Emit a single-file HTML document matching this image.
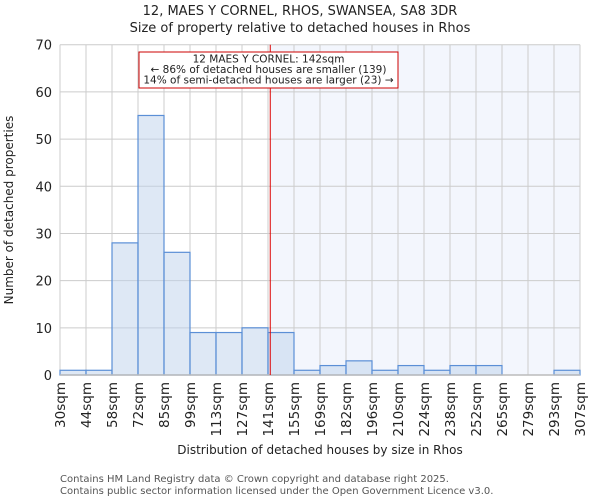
<!DOCTYPE html>
<html><head><meta charset="utf-8"><style>
body{margin:0;background:#fff;font-family:"DejaVu Sans","Liberation Sans",sans-serif}
svg text{font-family:"DejaVu Sans","Liberation Sans",sans-serif}
</style></head><body>
<svg id="c" width="600" height="500" viewBox="0 0 600 500">
<text x="300" y="15" text-anchor="middle" font-size="13" fill="#222">12, MAES Y CORNEL, RHOS, SWANSEA, SA8 3DR</text>
<text x="300" y="32" text-anchor="middle" font-size="13" fill="#222">Size of property relative to detached houses in Rhos</text>
<text transform="translate(13,210) rotate(-90)" text-anchor="middle" font-size="12" fill="#222">Number of detached properties</text>
<text x="320" y="454" text-anchor="middle" font-size="12" fill="#222">Distribution of detached houses by size in Rhos</text>
<text x="60" y="482" font-size="10" fill="#555">Contains HM Land Registry data © Crown copyright and database right 2025.</text>
<text x="60" y="494" font-size="10" fill="#555">Contains public sector information licensed under the Open Government Licence v3.0.</text>
<g id="plot"></g>
</svg>
<script>
const binEdges=[30,44,58,72,85,99,113,127,141,155,169,182,196,210,224,238,252,265,279,293,307];
const counts=[1,1,28,55,26,9,9,10,9,1,2,3,1,2,1,2,2,0,0,1];
const yTicks=[0,10,20,30,40,50,60,70];
const propertySize=142;
const annotationLines=["12 MAES Y CORNEL: 142sqm","← 86% of detached houses are smaller (139)","14% of semi-detached houses are larger (23) →"];
const NS="http://www.w3.org/2000/svg";
const L=60,R=580,T=44.7,B=375,yMax=70;
const xs=v=>L+(v-binEdges[0])/(binEdges[binEdges.length-1]-binEdges[0])*(R-L);
const xi=i=>L+i*(R-L)/(binEdges.length-1);
const ys=v=>B-v/yMax*(B-T);
const g=document.getElementById('plot');
function mk(t,a){const e=document.createElementNS(NS,t);for(const k in a)e.setAttribute(k,a[k]);g.appendChild(e);return e;}
const px=xs(propertySize);
let sh=mk('rect',{x:px,y:T,width:R-px,height:B-T,fill:'#f3f6fd'});


yTicks.forEach(v=>{
 let l=mk('line',{x1:L,x2:R,y1:ys(v),y2:ys(v),stroke:'#ccc','stroke-width':1});
 
 
 let t=mk('text',{x:L-8,y:ys(v)+5,'text-anchor':'end','font-size':13,fill:'#222'});
 t.textContent=v;
 
 
});
binEdges.forEach((v,i)=>{
 let l=mk('line',{x1:xi(i),x2:xi(i),y1:T,y2:B,stroke:'#ccc','stroke-width':1});
 
 
 let t=mk('text',{transform:`translate(${xi(i)+5},382) rotate(-90)`,'text-anchor':'end','font-size':13.5,fill:'#222'});
 t.textContent=v+'sqm';
 
 
});
counts.forEach((c,i)=>{
 if(c<=0)return;
 let r=mk('rect',{x:xi(i),y:ys(c),width:xi(i+1)-xi(i),height:B-ys(c),fill:'rgba(190,210,236,0.5)',stroke:'#5b8fd6','stroke-width':1.2});
 
 
});
let ax=mk('line',{x1:L,x2:R,y1:B,y2:B,stroke:'#bbb','stroke-width':1.5});


let ml=mk('line',{x1:px,x2:px,y1:T,y2:B,stroke:'#d00','stroke-width':1});


let box=mk('rect',{x:139,y:52,width:259,height:36,fill:'#fff',stroke:'#c00','stroke-width':1});


annotationLines.forEach((s,i)=>{
 let t=mk('text',{x:268.5,y:62.5+i*10.5,'text-anchor':'middle','font-size':10.5,fill:'#222'});
 t.textContent=s;
 
 
});
</script>
</body></html>
